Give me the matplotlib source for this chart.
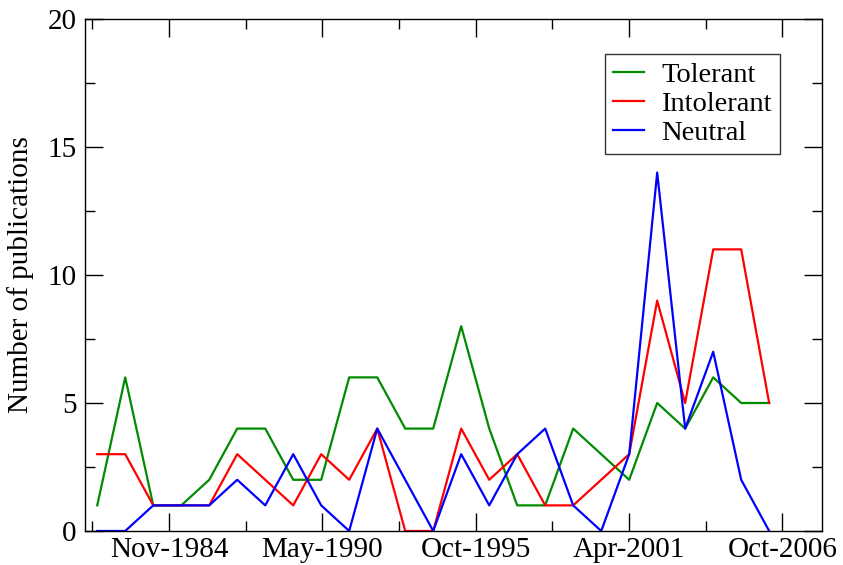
import matplotlib

matplotlib.use("Agg")
import matplotlib.pyplot as plt
from matplotlib.ticker import AutoMinorLocator, MultipleLocator
import pandas as pd

plt.rcParams["font.family"] = ["Liberation Serif", "DejaVu Serif"]

years = list(range(1982, 2007))
tolerant = [1, 6, 1, 1, 2, 4, 4, 2, 2, 6, 6, 4, 4, 8, 4, 1, 1, 4, 3, 2, 5, 4, 6, 5, 5]
intolerant = [3, 3, 1, 1, 1, 3, 2, 1, 3, 2, 4, 0, 0, 4, 2, 3, 1, 1, 2, 3, 9, 5, 11, 11, 5]
neutral = [0, 0, 1, 1, 1, 2, 1, 3, 1, 0, 4, 2, 0, 3, 1, 3, 4, 1, 0, 3, 14, 4, 7, 2, 0]

tick_labels = ["Nov-1984", "May-1990", "Oct-1995", "Apr-2001", "Oct-2006"]
tick_start = pd.Timestamp("1984-11-15")
tick_step_days = 2000

dates = pd.to_datetime([f"{y}-04-24" for y in years])
major = [tick_start + pd.Timedelta(days=tick_step_days * k) for k in range(len(tick_labels))]
minor = [tick_start + pd.Timedelta(days=tick_step_days * k - tick_step_days / 2) for k in range(len(tick_labels))]

fig = plt.figure(figsize=(8.43, 5.65), dpi=100)
ax = fig.add_axes([0.1008, 0.0602, 0.874, 0.9062])

ax.plot(dates, tolerant, color="#008b00", lw=1.6, label="Tolerant")
ax.plot(dates, intolerant, color="#ff0000", lw=1.6, label="Intolerant")
ax.plot(dates, neutral, color="#0000ff", lw=1.6, label="Neutral")

ax.set_xlim(pd.Timestamp("1981-11-15"), pd.Timestamp("2008-03-10"))
ax.set_ylim(0, 20)
ax.set_xticks(major)
ax.set_xticklabels(tick_labels)
ax.set_xticks(minor, minor=True)
ax.yaxis.set_major_locator(MultipleLocator(5))
ax.yaxis.set_minor_locator(AutoMinorLocator(2))

ax.tick_params(which="both", direction="in", top=True, right=True, labelsize=21, width=1)
ax.tick_params(which="major", length=13)
ax.tick_params(which="minor", length=7)
ax.tick_params(axis="x", pad=4)
ax.tick_params(axis="y", pad=6)
for s in ax.spines.values():
    s.set_linewidth(1)

ax.set_ylabel("Number of publications", fontsize=21, labelpad=10)

leg = ax.legend(loc="upper right", bbox_to_anchor=(0.944, 0.932), fontsize=20.5,
                frameon=True, fancybox=False, edgecolor="black", handlelength=1.1,
                handletextpad=0.6, labelspacing=0.1, borderpad=0.3, borderaxespad=0)
leg.get_frame().set_linewidth(1)

fig.savefig("out.png", dpi=100)
